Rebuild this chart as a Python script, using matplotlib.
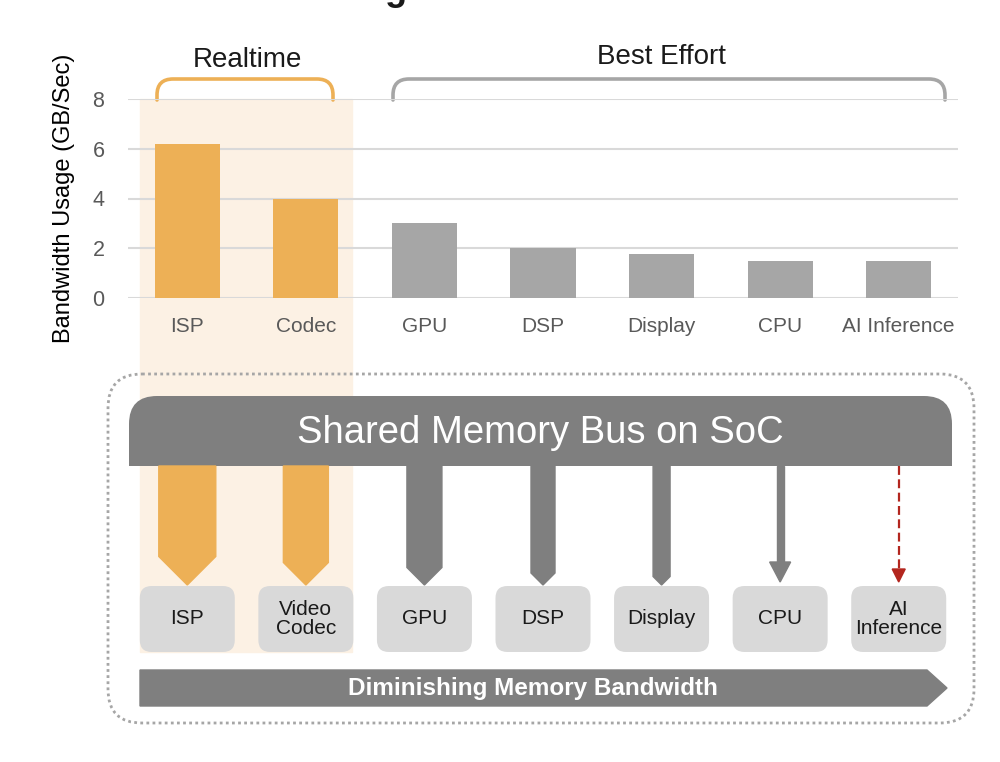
import matplotlib.pyplot as plt
from matplotlib.patches import FancyBboxPatch, Polygon, PathPatch, Rectangle
from matplotlib.path import Path

plt.rcParams["font.family"] = ["Liberation Sans", "DejaVu Sans"]

# ---- data ----
categories = ["ISP", "Codec", "GPU", "DSP", "Display", "CPU", "AI Inference"]
bandwidth = [6.2, 4.0, 3.0, 2.0, 1.75, 1.5, 1.5]
is_realtime = [True, True, False, False, False, False, False]
y_ticks = [0, 2, 4, 6, 8]
box_labels = ["ISP", "Video\nCodec", "GPU", "DSP", "Display", "CPU", "AI\nInference"]
# shaft width (px) of each link from the bus, None = thin arrow
shaft_widths = [57, 45, 35, 24, 17, None, None]

ORANGE = "#EDB056"
GRAY_BAR = "#A6A6A6"
DARK = "#7F7F7F"
BOX = "#D9D9D9"
BAND = "#FCF1E4"
RED = "#B3261E"

fig = plt.figure(figsize=(10, 7.62), dpi=100)

# background axes in pixel coords (diagram + highlight band)
ad = fig.add_axes([0, 0, 1, 1], zorder=0)
ad.set_xlim(0, 1000)
ad.set_ylim(762, 0)
ad.axis("off")

# chart axes
ax = fig.add_axes([128 / 1000, 1 - 298 / 762, 830 / 1000, 199 / 762], zorder=1)
ax.set_facecolor("none")
colors = [ORANGE if r else GRAY_BAR for r in is_realtime]
ax.bar(range(len(categories)), bandwidth, width=0.55, color=colors, zorder=3)
ax.set_xlim(-0.5, len(categories) - 0.5)
ax.set_ylim(0, 8)
ax.set_yticks(y_ticks)
ax.set_xticks(range(len(categories)))
ax.set_xticklabels(categories)
ax.grid(axis="y", color="#D9D9D9", linewidth=1.5, zorder=0)
ax.set_axisbelow(True)
for s in ax.spines.values():
    s.set_visible(False)
ax.tick_params(axis="y", length=0, pad=17, labelsize=15.5, labelcolor="#595959")
ax.tick_params(axis="x", length=0, pad=14, labelsize=15, labelcolor="#595959")
ax.set_ylabel("Bandwidth Usage (GB/Sec)", fontsize=17, color="black")
ax.yaxis.set_label_coords(-0.064, 0.5)


def px_x(i):
    # category index -> pixel x on the background axes
    disp = ax.transData.transform((i, 0))
    return ad.transData.inverted().transform(disp)[0]


centers = [px_x(i) for i in range(len(categories))]

# highlight band behind realtime group
ad.add_patch(Rectangle((140, 99), 212, 553, color=BAND, zorder=0))


# brackets
def bracket(x0, x1, ytop, ybot, r, color):
    verts = [(x0, ybot), (x0, ytop + r), (x0, ytop), (x0 + r, ytop),
             (x1 - r, ytop), (x1, ytop), (x1, ytop + r), (x1, ybot)]
    codes = [Path.MOVETO, Path.LINETO, Path.CURVE3, Path.CURVE3,
             Path.LINETO, Path.CURVE3, Path.CURVE3, Path.LINETO]
    ad.add_patch(PathPatch(Path(verts, codes), fill=False, edgecolor=color,
                           linewidth=2.6, capstyle="round", zorder=5))


bracket(157, 333, 79, 100, 16, ORANGE)
bracket(393, 945, 79, 100, 16, GRAY_BAR)
ad.text(247, 60, "Realtime", fontsize=20, ha="center", va="center", color="#1a1a1a")
ad.text(661, 57, "Best Effort", fontsize=20, ha="center", va="center", color="#1a1a1a")

# cut-off title fragment at the very top
ad.text(396, 0, "g", fontsize=26, fontweight="bold", ha="center", va="baseline",
        color="#1a1a1a")

# dotted outer frame
ad.add_patch(FancyBboxPatch((108 + 34, 374 + 34), 866 - 68, 349 - 68,
                            boxstyle="round,pad=34", fill=False,
                            edgecolor="#A6A6A6", linewidth=2.0, linestyle=(0, (1, 1.2)),
                            zorder=2))

# shared bus: rounded top corners, square bottom
r = 28
bx0, bx1, by0, by1 = 129, 952, 396, 466
verts = [(bx0, by1), (bx0, by0 + r), (bx0, by0), (bx0 + r, by0),
         (bx1 - r, by0), (bx1, by0), (bx1, by0 + r), (bx1, by1), (bx0, by1)]
codes = [Path.MOVETO, Path.LINETO, Path.CURVE3, Path.CURVE3,
         Path.LINETO, Path.CURVE3, Path.CURVE3, Path.LINETO, Path.CLOSEPOLY]
ad.add_patch(PathPatch(Path(verts, codes), facecolor=DARK, edgecolor="none", zorder=3))
ad.text(540, 433, "Shared Memory Bus on SoC", fontsize=27.5, color="white",
        ha="center", va="center", zorder=4)

# links from bus to each block
tip_y = 585
for i, (cx, w) in enumerate(zip(centers, shaft_widths)):
    if w is not None:
        h = w / 2
        col = ORANGE if is_realtime[i] else DARK
        ad.add_patch(Polygon([(cx - h, by1), (cx + h, by1), (cx + h, tip_y - h),
                              (cx, tip_y), (cx - h, tip_y - h)],
                             closed=True, color=col, zorder=3))
    elif i == 5:
        ad.add_patch(Rectangle((cx - 3.5, by1), 7, 563 - by1, color=DARK, zorder=3))
        ad.add_patch(Polygon([(cx - 10.5, 562), (cx + 10.5, 562), (cx, 582)],
                             closed=True, color=DARK, zorder=3))
    else:
        ad.plot([cx, cx], [by1, 572], color=RED, linewidth=1.6,
                linestyle=(0, (4, 2)), zorder=3)
        ad.add_patch(Polygon([(cx - 6.5, 569), (cx + 6.5, 569), (cx, 582)],
                             closed=True, color=RED, zorder=3))

# blocks
for cx, lab in zip(centers, box_labels):
    ad.add_patch(FancyBboxPatch((cx - 47.5 + 12, 586 + 12), 95 - 24, 66 - 24,
                                boxstyle="round,pad=12", facecolor=BOX,
                                edgecolor="none", zorder=3))
    ad.text(cx, 619, lab, fontsize=15, ha="center", va="center",
            color="#1a1a1a", linespacing=0.95, zorder=4)

# diminishing bandwidth arrow
ad.add_patch(Polygon([(140, 670), (927, 670), (947, 688), (927, 706), (140, 706)],
                     closed=True, color=DARK, zorder=3))
ad.text(533, 688, "Diminishing Memory Bandwidth", fontsize=17.5, fontweight="bold",
        color="white", ha="center", va="center", zorder=4)

plt.savefig("out.png", dpi=100)
